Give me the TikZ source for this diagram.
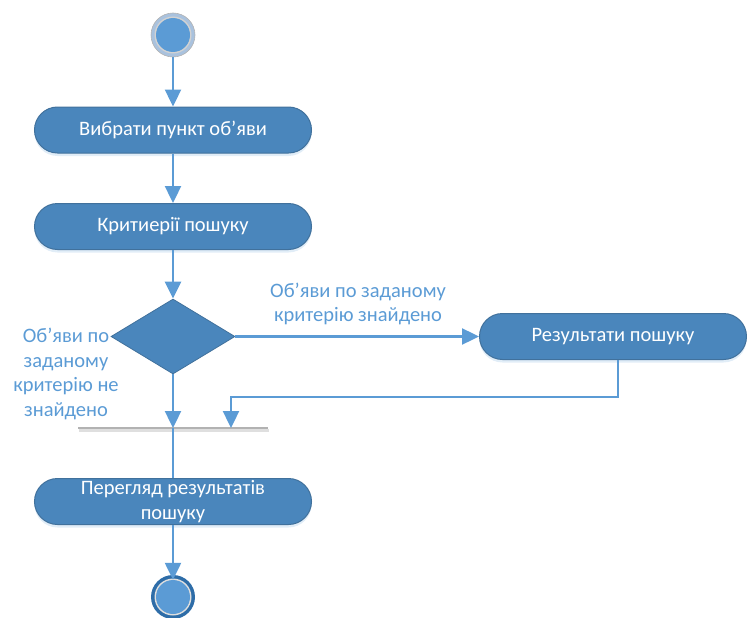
\documentclass[tikz,border=0pt]{standalone}
\usepackage{fontspec}
\setmainfont{Carlito}
\usetikzlibrary{arrows.meta,shapes.geometric,shadows}
\definecolor{boxfill}{HTML}{4A86BC}
\definecolor{boxborder}{HTML}{41719C}
\definecolor{lineblue}{HTML}{5B9BD5}
\definecolor{ringgray}{HTML}{A9C2DE}
\definecolor{darkring}{HTML}{2E6DA8}
\tikzset{
  actbox/.style={draw=boxborder, line width=1pt, fill=boxfill, rounded corners=23pt,
    text=white, font=\fontsize{20.5}{24.5}\selectfont, align=center, inner sep=0pt,
    drop shadow={opacity=0.18, shadow xshift=0pt, shadow yshift=-3pt, fill=lineblue}},
  flow/.style={draw=lineblue, line width=2.4pt, -{Triangle[width=16pt,length=17pt]}},
  plain/.style={draw=lineblue, line width=2.4pt},
  guard/.style={text=lineblue, font=\fontsize{20.5}{24.5}\selectfont, align=center, inner sep=0pt},
  decision/.style={diamond, draw=boxborder, line width=0.8pt, fill=boxfill, minimum width=124pt, minimum height=75pt, inner sep=0pt}
}
\begin{document}
\begin{tikzpicture}[x=1pt,y=-1pt]
\useasboundingbox (0,0) rectangle (747,618);
% initial node
\fill[ringgray] (173,35) circle (22);
\draw[gray!60, line width=0.6pt] (173,35) circle (22);
\fill[gray!35] (173,35) circle (18.5);
\node[circle, fill=lineblue, minimum size=34pt, inner sep=0pt] (start) at (173,35) {};
\coordinate (startb) at (173,57);
% boxes
\node[actbox, minimum width=277pt, minimum height=46pt] (b1) at (173,130) {Вибрати пункт об’яви};
\node[actbox, minimum width=277pt, minimum height=46pt] (b2) at (173,226.5) {Критиерії пошуку};
\node[decision] (d) at (173,336.5) {};
\node[actbox, minimum width=267pt, minimum height=46pt] (b3) at (613,336.5) {Результати пошуку};
\node[actbox, minimum width=277pt, minimum height=46pt] (b4) at (173,501.5) {Перегляд результатів\\пошуку};
% bar
\draw[gray!25, line width=3pt] (79,430) -- (269,430);
\draw[gray!60, line width=2.2pt] (78,428) -- (268,428);
\coordinate (barL) at (173,428);
\coordinate (barR) at (231,428);
\coordinate (corner1) at (618,397);
\coordinate (corner2) at (231,397);
% final node
\fill[darkring] (173,597) circle (22);
\fill[gray!25] (173,597) circle (18.5);
\node[circle, fill=lineblue, minimum size=34pt, inner sep=0pt] (end) at (173,597) {};
% connectors
\draw[flow] (startb) -- (b1.north);
\draw[flow] (b1.south) -- (b2.north);
\draw[flow] (b2.south) -- (d.north);
\draw[flow] (d.east) -- (b3.west);
\draw[flow] (d.south) -- (barL);
\draw[flow] (b3.south -| corner1) -- (corner1) -- (corner2) -- (barR);
\draw[plain] (barL) -- (b4.north);
\draw[flow] (b4.south) -- (end.north);
% labels
\node[guard] (g1) at (358,304) {Об’яви по заданому\\критерію знайдено};
\node[guard] (g2) at (66,374) {Об’яви по\\заданому\\критерію не\\знайдено};
\end{tikzpicture}
\end{document}
